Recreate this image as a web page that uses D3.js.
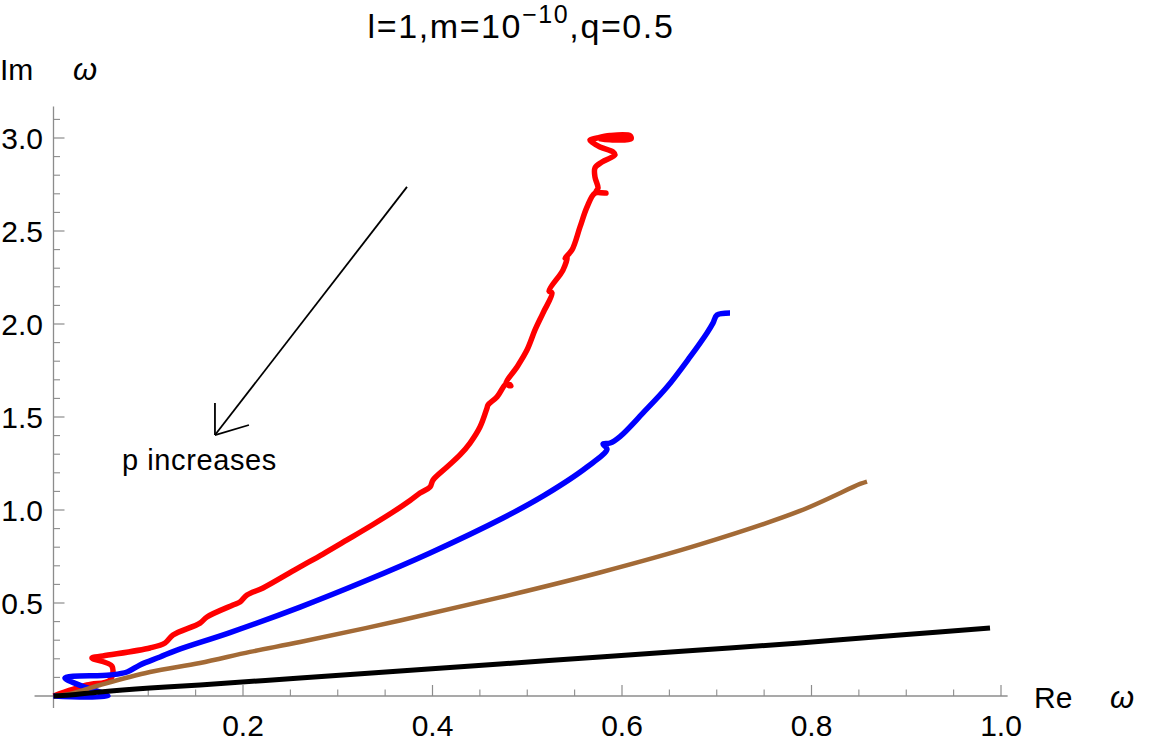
<!DOCTYPE html>
<html>
<head>
<meta charset="utf-8">
<script src="https://cdn.jsdelivr.net/npm/d3@7"></script>
<style>
html,body{margin:0;padding:0;background:#fff;}
svg{display:block;font-family:"Liberation Sans",Arial,sans-serif;}
</style>
</head>
<body>
<svg id="chart" width="1153" height="749"></svg>
<script>
// ---- data (Re ω, Im ω) ----
const redRe = [0,0.0354,0.0596,0.0617,0.0406,0.0522,0.1018,0.1177,0.1261,0.1546,0.162,0.1894,0.1968,0.2042,0.2211,0.257,0.2844,0.3098,0.3372,0.3583,0.3763,0.3868,0.3974,0.4005,0.4153,0.429,0.4396,0.4501,0.4575,0.4586,0.4681,0.4786,0.4828,0.4776,0.4892,0.4997,0.5082,0.5166,0.5261,0.523,0.5377,0.542,0.5399,0.5472,0.5557,0.5631,0.5715,0.5831,0.5726,0.5747,0.5715,0.5715,0.5789,0.5926,0.5905,0.5768,0.5683,0.5662,0.5736,0.5873,0.6085,0.6095,0.5873,0.5757];
const redIm = [0,0.059,0.086,0.161,0.204,0.215,0.258,0.285,0.328,0.392,0.425,0.489,0.505,0.543,0.581,0.685,0.763,0.839,0.922,0.989,1.051,1.091,1.124,1.161,1.231,1.296,1.36,1.446,1.548,1.565,1.608,1.683,1.667,1.68,1.769,1.86,1.968,2.059,2.167,2.177,2.29,2.36,2.355,2.398,2.522,2.629,2.704,2.704,2.71,2.731,2.79,2.839,2.871,2.909,2.925,2.952,2.978,2.989,3.0,3.013,3.012,2.995,2.99,2.997];

const blueRe = [0,0.0575,0.0301,0.0121,0.0596,0.0776,0.0913,0.1124,0.1303,0.1862,0.2602,0.3288,0.3974,0.4744,0.5187,0.5631,0.5842,0.58,0.5874,0.5979,0.6222,0.6475,0.6718,0.6897,0.696,0.7002,0.714];
const blueIm = [0,0,0.054,0.097,0.113,0.129,0.167,0.21,0.247,0.341,0.478,0.618,0.769,0.957,1.081,1.231,1.328,1.355,1.36,1.395,1.522,1.661,1.823,1.952,2.005,2.048,2.059];

const brownRe = [0.0016,0.0174,0.0491,0.1018,0.1546,0.2074,0.2602,0.3657,0.4712,0.5768,0.6823,0.7878,0.8512,0.8586];
const brownIm = [0,0.011,0.059,0.129,0.177,0.237,0.29,0.406,0.53,0.664,0.815,0.995,1.14,1.153];

const blackRe = [0,0.0174,0.0491,0.1018,0.1546,0.2602,0.3657,0.4712,0.5768,0.6823,0.7878,0.8933,0.9884];
const blackIm = [0,0.005,0.022,0.043,0.059,0.097,0.134,0.172,0.21,0.247,0.285,0.328,0.366];

const xTicks = [0.2,0.4,0.6,0.8,1.0];
const xTickLabels = ["0.2","0.4","0.6","0.8","1.0"];
const yTicks = [0.5,1.0,1.5,2.0,2.5,3.0];
const yTickLabels = ["0.5","1.0","1.5","2.0","2.5","3.0"];

// annotation arrow (tail, tip, wings) and text in data units
const arrowRe = [0.3731,0.1704];
const arrowIm = [2.737,1.403];
const wingRe = [0.1704,0.2063];
const wingIm = [1.575,1.457];
const noteText = "p increases";
const notePos = [0.0722,1.215];

// ---- layout ----
const svg = d3.select("#chart");
const x = d3.scaleLinear().domain([0,1.0]).range([53.5,1001]);
const y = d3.scaleLinear().domain([0,3.0]).range([696,138]);
const axisColor = "#8c8c8c";

const xMinor = d3.range(1,21).map(i=>i*0.05).filter(v=>!xTicks.some(t=>Math.abs(t-v)<1e-9));
const yMinor = d3.range(1,32).map(i=>i*0.1).filter(v=>!yTicks.some(t=>Math.abs(t-v)<1e-9));

// axes lines
svg.append("line").attr("x1",x(-0.02)).attr("x2",x(1.007)).attr("y1",y(0)).attr("y2",y(0))
  .attr("stroke",axisColor).attr("stroke-width",1.3);
svg.append("line").attr("x1",x(0)).attr("x2",x(0)).attr("y1",y(-0.065)).attr("y2",y(3.17))
  .attr("stroke",axisColor).attr("stroke-width",1.3);

// x ticks
svg.append("g").selectAll("line").data(xTicks).join("line")
  .attr("x1",d=>x(d)).attr("x2",d=>x(d)).attr("y1",y(0)).attr("y2",y(0)-11)
  .attr("stroke",axisColor).attr("stroke-width",1.2);
svg.append("g").selectAll("line").data(xMinor).join("line")
  .attr("x1",d=>x(d)).attr("x2",d=>x(d)).attr("y1",y(0)).attr("y2",y(0)-6.5)
  .attr("stroke",axisColor).attr("stroke-width",1.1);
svg.append("g").selectAll("text").data(xTicks).join("text")
  .attr("x",d=>x(d)).attr("y",736).attr("text-anchor","middle")
  .attr("font-size",30).attr("fill","#000").text((d,i)=>xTickLabels[i]);

// y ticks
svg.append("g").selectAll("line").data(yTicks).join("line")
  .attr("x1",x(0)).attr("x2",x(0)+11).attr("y1",d=>y(d)).attr("y2",d=>y(d))
  .attr("stroke",axisColor).attr("stroke-width",1.2);
svg.append("g").selectAll("line").data(yMinor).join("line")
  .attr("x1",x(0)).attr("x2",x(0)+6.5).attr("y1",d=>y(d)).attr("y2",d=>y(d))
  .attr("stroke",axisColor).attr("stroke-width",1.1);
svg.append("g").selectAll("text").data(yTicks).join("text")
  .attr("x",43).attr("y",d=>y(d)+11).attr("text-anchor","end")
  .attr("font-size",30).attr("fill","#000").text((d,i)=>yTickLabels[i]);

// axis labels
svg.append("text").attr("x",0).attr("y",80).attr("font-size",30).text("Im");
svg.append("text").attr("x",73).attr("y",80).attr("font-size",31).attr("font-style","italic").text("ω");
svg.append("text").attr("x",1034).attr("y",708).attr("font-size",30).text("Re");
svg.append("text").attr("x",1110).attr("y",708).attr("font-size",31).attr("font-style","italic").text("ω");

// title
const title = svg.append("text").attr("x",521).attr("y",38).attr("text-anchor","middle")
  .attr("font-size",34).attr("letter-spacing","1.6px");
title.append("tspan").text("l=1,m=10");
title.append("tspan").attr("dy",-15).attr("font-size",25).text("−10");
title.append("tspan").attr("dy",15).text(",q=0.5");

// curves
const line = d3.line().x(d=>x(d[0])).y(d=>y(d[1])).curve(d3.curveCatmullRom.alpha(0.5));
const series = [
  {re:redRe, im:redIm, color:"#ff0000", w:5.5},
  {re:blueRe, im:blueIm, color:"#0000ff", w:5.5},
  {re:brownRe, im:brownIm, color:"#a36a36", w:4.5},
  {re:blackRe, im:blackIm, color:"#000000", w:5}
];
series.forEach(s=>{
  const pts = s.re.map((v,i)=>[v,s.im[i]]);
  svg.append("path").attr("d",line(pts)).attr("fill","none")
    .attr("stroke",s.color).attr("stroke-width",s.w)
    .attr("stroke-linejoin","round").attr("stroke-linecap","butt");
});

// annotation arrow
svg.append("line").attr("x1",x(arrowRe[0])).attr("y1",y(arrowIm[0]))
  .attr("x2",x(arrowRe[1])).attr("y2",y(arrowIm[1]))
  .attr("stroke","#000").attr("stroke-width",1.8);
wingRe.forEach((v,i)=>{
  svg.append("line").attr("x1",x(arrowRe[1])).attr("y1",y(arrowIm[1]))
    .attr("x2",x(v)).attr("y2",y(wingIm[i]))
    .attr("stroke","#000").attr("stroke-width",1.8);
});
svg.append("text").attr("x",x(notePos[0])).attr("y",y(notePos[1]))
  .attr("font-size",29).attr("letter-spacing","0.6px").text(noteText);
</script>
</body>
</html>
